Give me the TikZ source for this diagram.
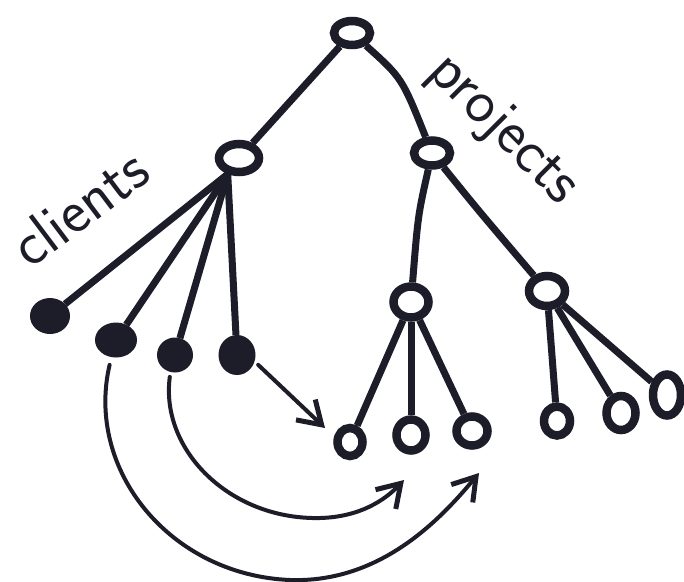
\documentclass[tikz,border=0pt]{standalone}
\usetikzlibrary{shapes.geometric,arrows.meta}
\definecolor{ink}{HTML}{1C1D28}
\begin{document}
\begin{tikzpicture}[x=1pt,y=-1pt,
  open/.style={ellipse, draw=ink, fill=white, line width=8.5pt, inner sep=0pt},
  full/.style={ellipse, fill=ink, draw=ink, line width=2pt, inner sep=0pt},
  branch/.style={line width=7pt, draw=ink},
  jump/.style={line width=4pt, draw=ink, line cap=round, -{Straight Barb[length=22pt,width=28pt,line width=5pt]}},
  lbl/.style={font=\sffamily\fontsize{62}{62}\selectfont, text=ink, inner sep=0pt}
]
\useasboundingbox[fill=white] (0,0) rectangle (684,581);
% tree nodes
\node[open, minimum width=36pt, minimum height=24pt] (root) at (352,33) {};
\node[open, minimum width=40pt, minimum height=28pt] (clients) at (239,158) {};
\node[open, minimum width=36pt, minimum height=25pt] (proj) at (432,153) {};
\node[open, minimum width=35pt, minimum height=31pt] (p1) at (411,302) {};
\node[open, minimum width=36pt, minimum height=30pt] (p2) at (547,291) {};
\node[open, minimum width=25pt, minimum height=28pt] (l1) at (350,442) {};
\node[open, minimum width=29pt, minimum height=31pt] (l2) at (411,435) {};
\node[open, minimum width=31pt, minimum height=29pt] (l3) at (472,431) {};
\node[open, minimum width=26pt, minimum height=29pt] (m1) at (557,421) {};
\node[open, minimum width=29pt, minimum height=34pt] (m2) at (621,413) {};
\node[open, minimum width=28pt, minimum height=41pt] (m3) at (667,395) {};
\node[full, minimum width=38pt, minimum height=34pt] (c1) at (50,316) {};
\node[full, minimum width=40pt, minimum height=33pt] (c2) at (116,340) {};
\node[full, minimum width=34pt, minimum height=33pt] (c3) at (175,355) {};
\node[full, minimum width=35pt, minimum height=38pt] (c4) at (237,355) {};
% branches
\draw[branch] (root) -- (clients);
\draw[branch] (root) .. controls (402,78) .. (proj);
\draw[branch] (proj) .. controls (418,215) .. (p1);
\draw[branch] (proj) .. controls (478,210) .. (p2);
\draw[branch] (clients.235) -- (c1);
\draw[branch] (clients.235) -- (c2);
\draw[branch] (clients.235) -- (c3);
\draw[branch] (clients.235) -- (c4);
\draw[branch] (p1) -- (l1);
\draw[branch] (p1) -- (l2);
\draw[branch] (p1) -- (l3);
\draw[branch] (p2) -- (m1);
\draw[branch] (p2) -- (m2);
\draw[branch] (p2) -- (m3);
% arrows
\coordinate (t1) at (325,428);
\coordinate (t2) at (404,480);
\coordinate (t3) at (479,473);
\draw[jump, shorten <=5pt] (c4.-20) -- (t1);
\draw[jump, shorten <=5pt] (c3.255) .. controls (160,450) and (230,520) .. (320,518) .. controls (360,517) and (385,500) .. (t2);
\draw[jump, shorten <=8pt] (c2.255) .. controls (85,470) and (170,575) .. (290,580) .. controls (380,583) and (440,520) .. (t3);
% labels
\node[lbl, rotate=37] (tc) at (79,207) {clients};
\node[lbl, rotate=-45] (tp) at (503,130) {projects};
\end{tikzpicture}
\end{document}
